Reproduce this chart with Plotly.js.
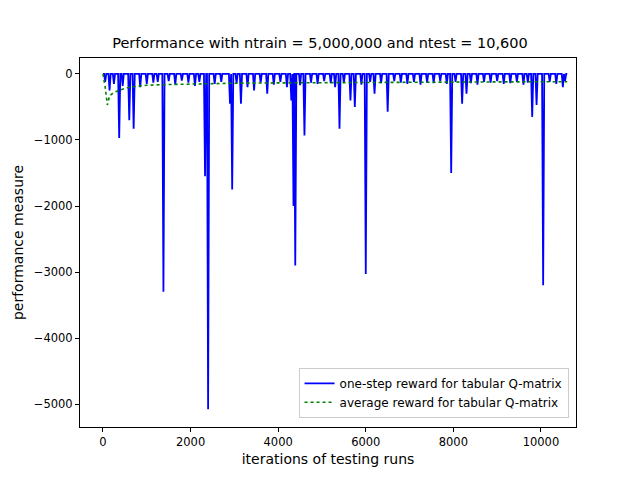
<!DOCTYPE html>
<html><head><meta charset="utf-8">
<script src="https://cdn.plot.ly/plotly-3.0.1.min.js"></script>
</head><body style="margin:0">
<div id="plot" style="width:640px;height:480px"></div>
<script>
// large dips of the one-step reward (iteration, reward)
const spikeIter = [150, 370, 600, 700, 1380, 2330, 2400, 2900, 2950, 3150, 3750, 4300, 4350, 4390, 4600, 5400, 5650, 5750, 6000, 6200, 6500, 7950, 8200, 8300, 9800, 9900, 10050, 10500];
const spikeVal  = [-250, -970, -700, -830, -3300, -1550, -5080, -450, -1750, -450, -300, -400, -2000, -2900, -930, -830, -400, -500, -3030, -300, -570, -1500, -450, -300, -650, -470, -3200, -200];
// small dips forming the band near zero
const smallIter = [50, 250, 450, 850, 1000, 1150, 1250, 1500, 1650, 1800, 1950, 2100, 2200, 2550, 2700, 3050, 3300, 3450, 3600, 3900, 4050, 4200, 4500, 4750, 4900, 5050, 5200, 5300, 5500, 5900, 6100, 6350, 6650, 6800, 6950, 7100, 7250, 7400, 7550, 7700, 7850, 8050, 8400, 8550, 8700, 8850, 9000, 9150, 9300, 9450, 9600, 9700, 10200, 10350, 10550];
const smallVal  = [-120, -150, -180, -200, -150, -130, -120, -110, -160, -100, -130, -180, -120, -150, -120, -140, -200, -250, -130, -160, -120, -200, -170, -130, -150, -110, -140, -200, -130, -160, -120, -140, -110, -130, -150, -120, -160, -130, -140, -110, -150, -120, -140, -160, -120, -130, -110, -150, -140, -120, -160, -130, -120, -150, -110];
// running average reward
const avgIter = [0, 50, 100, 150, 250, 400, 600, 800, 1000, 1500, 2000, 3000, 4000, 5000, 6000, 7000, 8000, 9000, 10000, 10600];
const avgVal  = [0, -200, -470, -330, -280, -240, -200, -180, -170, -160, -150, -140, -135, -130, -128, -125, -122, -120, -118, -117];

const pts = spikeIter.map((x, i) => [x, spikeVal[i]]).concat(smallIter.map((x, i) => [x, smallVal[i]])).sort((a, b) => a[0] - b[0]);
const bx = [0], by = [0];
pts.forEach(([x, v]) => { bx.push(x - 25, x, x + 25); by.push(0, v, 0); });
bx.push(10600); by.push(0);

const traces = [
  {x: bx, y: by, type: 'scatter', mode: 'lines', line: {color: 'blue', width: 1.8}, name: 'one-step reward for tabular Q-matrix'},
  {x: avgIter, y: avgVal, type: 'scatter', mode: 'lines', line: {color: 'green', width: 1.6, dash: 'dot'}, name: 'average reward for tabular Q-matrix'}
];
const ax = {showgrid: false, zeroline: false, showline: true, mirror: true, linecolor: 'black', linewidth: 1, ticks: 'outside', ticklen: 4, tickcolor: 'black'};
const layout = {
  width: 640, height: 480,
  margin: {l: 80, r: 64, t: 58, b: 53},
  font: {family: 'DejaVu Sans', size: 11.5, color: 'black'},
  title: {text: 'Performance with ntrain = 5,000,000 and ntest = 10,600', font: {size: 14.5}, x: 0.5, y: 0.91, yanchor: 'middle'},
  xaxis: Object.assign({range: [-525, 10800], tickvals: [0, 2000, 4000, 6000, 8000, 10000], ticktext: ['0', '2000', '4000', '6000', '8000', '10000'], title: {text: 'iterations of testing runs', standoff: 6}}, ax),
  yaxis: Object.assign({range: [-5348, 242], tickvals: [0, -1000, -2000, -3000, -4000, -5000], ticktext: ['0', '−1000', '−2000', '−3000', '−4000', '−5000'], title: {text: 'performance measure', standoff: 6}}, ax),
  showlegend: true,
  legend: {x: 0.985, y: 0.025, xanchor: 'right', yanchor: 'bottom', bordercolor: '#ccc', borderwidth: 1, bgcolor: 'white', font: {size: 12}},
  paper_bgcolor: 'white', plot_bgcolor: 'white'
};
Plotly.newPlot('plot', traces, layout, {displayModeBar: false});
</script>
</body></html>
